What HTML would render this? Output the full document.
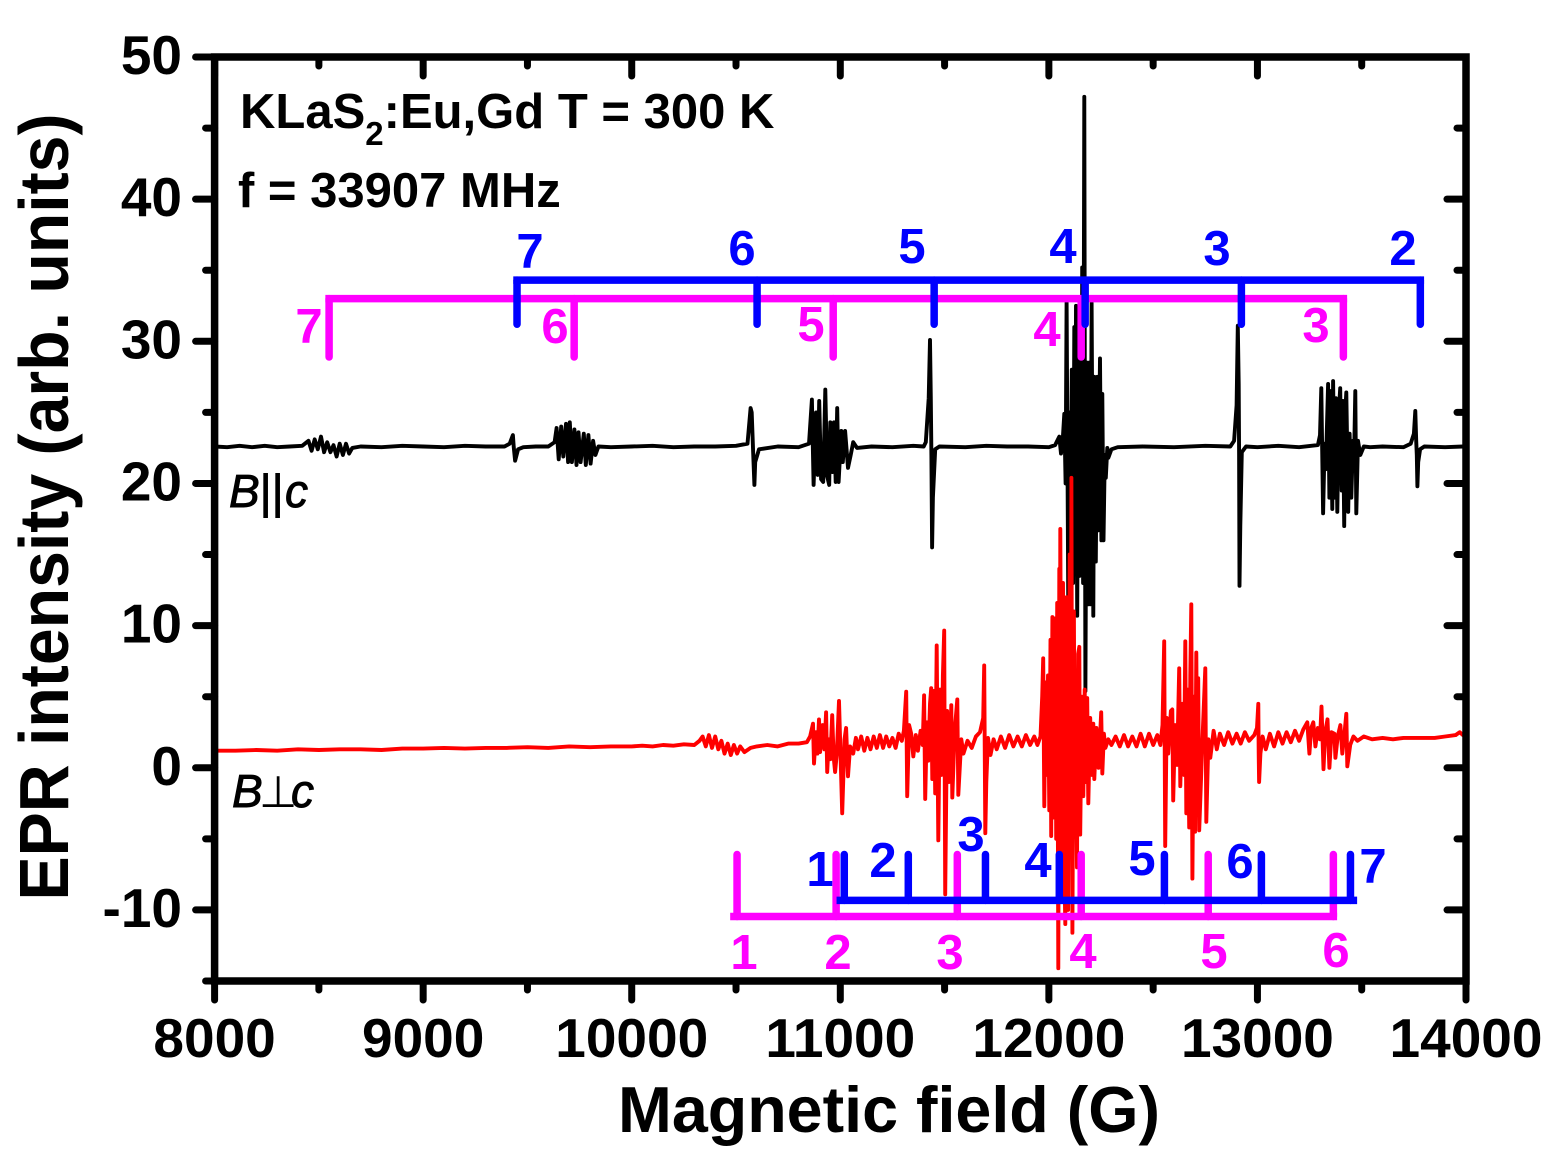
<!DOCTYPE html>
<html lang="en">
<head>
<meta charset="utf-8">
<title>EPR spectra of KLaS2:Eu,Gd</title>
<style>
html,body{margin:0;padding:0;background:#fff;}
svg{display:block;}
text{font-family:"Liberation Sans",Arial,sans-serif;font-weight:bold;}
.it{font-style:italic;font-weight:normal;stroke:#000;stroke-width:0.9px;}
.perp{font-family:"DejaVu Sans",sans-serif;font-style:normal;stroke:none;}
.blue{fill:#0000ff;font-size:49px;text-anchor:middle;}
.mag{fill:#ff00ff;font-size:49px;text-anchor:middle;}
</style>
</head>
<body>
<svg id="chart" xmlns="http://www.w3.org/2000/svg" width="1563" height="1174" viewBox="0 0 1563 1174">
  <rect width="1563" height="1174" fill="#fff"/>
  <g id="series" fill="none" stroke-linejoin="round"></g>
  <g id="frame"></g>
  <g id="brackets" fill="none"></g>
  <g id="tick-labels"></g>

  <text x="889" y="1132" font-size="65" text-anchor="middle" textLength="542" lengthAdjust="spacingAndGlyphs">Magnetic field (G)</text>
  <text transform="translate(68,507) rotate(-90)" font-size="70" text-anchor="middle" textLength="787" lengthAdjust="spacingAndGlyphs">EPR intensity (arb. units)</text>

  <text x="240" y="128" font-size="49">KLaS<tspan font-size="33" dy="17">2</tspan><tspan dy="-17">:Eu,Gd T = 300 K</tspan></text>
  <text x="238" y="207" font-size="49">f = 33907 MHz</text>
  <text class="it" x="229" y="507" font-size="46">B<tspan x="259">||</tspan><tspan x="285">c</tspan></text>
  <text class="it" x="232" y="807" font-size="46">B<tspan class="perp" x="259" font-size="44">⊥</tspan><tspan x="291">c</tspan></text>

  <g>
    <text class="blue" x="530" y="268">7</text>
    <text class="blue" x="742" y="265">6</text>
    <text class="blue" x="912" y="263">5</text>
    <text class="blue" x="1063" y="263">4</text>
    <text class="blue" x="1217" y="265">3</text>
    <text class="blue" x="1403" y="265">2</text>
  </g>
  <g>
    <text class="mag" x="309" y="343">7</text>
    <text class="mag" x="555" y="343">6</text>
    <text class="mag" x="811" y="341">5</text>
    <text class="mag" x="1047" y="346">4</text>
    <text class="mag" x="1316" y="342">3</text>
  </g>
  <g>
    <text class="blue" x="820" y="886">1</text>
    <text class="blue" x="883" y="877">2</text>
    <text class="blue" x="971" y="851">3</text>
    <text class="blue" x="1038" y="877">4</text>
    <text class="blue" x="1142" y="875">5</text>
    <text class="blue" x="1240" y="878">6</text>
    <text class="blue" x="1373" y="883">7</text>
  </g>
  <g>
    <text class="mag" x="744" y="969">1</text>
    <text class="mag" x="838" y="969">2</text>
    <text class="mag" x="950" y="969">3</text>
    <text class="mag" x="1083" y="968">4</text>
    <text class="mag" x="1214" y="968">5</text>
    <text class="mag" x="1336" y="967">6</text>
  </g>
</svg>
<script>
const xTickLabels = [8000, 9000, 10000, 11000, 12000, 13000, 14000];
const xMinorTicks = [8500, 9500, 10500, 11500, 12500, 13500];
const yTickLabels = [50, 40, 30, 20, 10, 0, -10];
const yMinorTicks = [45, 35, 25, 15, 5, -5, -15];

const blackField = [
8000,8060,8120,8180,8240,8300,8360,8420,8450,8465,
8480,8495,8510,8525,8540,8555,8570,8585,8600,8615,
8630,8645,8660,8700,8800,8900,9000,9100,9200,9300,
9390,9415,9430,9434,9441,9455,9480,9540,9600,9630,
9640,9650,9662,9672,9685,9695,9703,9713,9725,9735,
9745,9755,9770,9780,9792,9803,9815,9826,9840,9900,
10000,10100,10200,10300,10400,10500,10555,10570,10575,10582,
10588,10592,10610,10700,10800,10850,10864,10872,10884,10892,
10899,10908,10918,10928,10937,10947,10952,10962,10970,10978,
10985,10992,11005,11012,11023,11037,11050,11062,11080,11150,
11250,11350,11400,11410,11424,11430,11434,11437,11440,11444,
11455,11475,11600,11700,11800,11900,12000,12030,12050,12058,
12066,12074,12080,12085,12093,12098,12103,12110,12116,12122,
12127,12130,12136,12142,12147,12152,12156,12160,12164,12170,
12175,12182,12189,12194,12199,12205,12213,12218,12225,12232,
12236,12245,12252,12256,12262,12268,12273,12280,12285,12300,
12330,12450,12600,12750,12870,12888,12900,12906,12910,12912,
12914,12918,12925,12945,13000,13100,13200,13290,13300,13306,
13315,13322,13328,13339,13345,13350,13359,13363,13370,13376,
13383,13390,13397,13404,13410,13416,13421,13426,13435,13442,
13450,13458,13464,13469,13474,13482,13493,13510,13540,13600,
13700,13735,13750,13757,13761,13764,13767,13771,13780,13800,
13900,13985];
const blackIntensity = [
22.6,22.55,22.65,22.55,22.65,22.55,22.6,22.65,23.0,22.3,
23.1,22.4,23.3,22.2,22.9,22.2,22.7,21.9,22.8,22.0,
22.8,22.1,22.5,22.6,22.55,22.65,22.6,22.55,22.65,22.6,
22.6,22.8,23.4,22.6,21.6,22.4,22.55,22.6,22.6,22.9,
23.9,21.7,24.0,21.9,24.2,21.5,24.3,21.5,23.8,21.3,
23.6,21.5,23.5,21.3,23.4,21.4,23.0,22.0,22.6,22.55,
22.6,22.65,22.55,22.6,22.6,22.65,22.8,25.3,25.0,22.3,
19.9,21.5,22.4,22.6,22.55,22.8,25.9,19.9,25.0,20.6,
25.8,20.3,20.1,26.6,20.5,19.9,24.3,20.8,24.3,20.1,
25.3,20.1,23.7,21.5,23.7,21.1,22.0,22.9,22.5,22.6,
22.55,22.65,22.6,22.9,26.0,30.1,26.0,22.0,15.5,19.0,
22.4,22.6,22.55,22.65,22.6,22.6,22.55,22.7,23.3,22.1,
22.9,24.9,20.0,32.9,11.2,25.0,14.0,28.0,13.0,31.0,
14.0,32.5,10.7,30.0,13.5,31.0,14.0,35.2,13.0,47.2,
5.4,28.5,11.5,28.5,11.5,32.7,10.7,27.5,14.5,27.5,
16.7,28.8,16.0,26.3,16.0,22.0,20.4,22.5,21.8,22.4,
22.55,22.6,22.55,22.65,22.6,23.0,25.5,31.1,27.0,22.0,
12.8,17.0,22.2,22.6,22.55,22.65,22.55,22.7,23.4,26.7,
17.9,22.8,21.0,27.0,19.0,26.5,18.2,27.2,19.0,26.0,
18.0,25.0,26.7,19.5,25.8,17.0,25.0,26.4,18.0,23.5,
19.0,23.0,22.3,26.5,17.9,23.0,22.0,22.6,22.55,22.6,
22.55,22.8,23.5,25.1,23.0,22.0,19.8,21.5,22.4,22.6,
22.55,22.6];

const redField = [
8000,8100,8200,8300,8400,8500,8600,8700,8800,8900,
9000,9100,9200,9300,9400,9500,9600,9700,9800,9900,
10000,10050,10100,10150,10200,10250,10300,10325,10340,10355,
10370,10385,10400,10415,10430,10445,10460,10475,10490,10505,
10520,10540,10570,10600,10650,10700,10750,10800,10840,10855,
10869,10874,10883,10890,10898,10903,10915,10924,10932,10937,
10945,10952,10961,10968,10975,10983,10994,11009,11020,11028,
11037,11047,11062,11075,11085,11100,11115,11130,11145,11160,
11175,11190,11205,11220,11235,11250,11265,11280,11295,11305,
11316,11321,11330,11340,11350,11362,11372,11385,11395,11402,
11407,11415,11422,11430,11436,11441,11449,11455,11462,11470,
11478,11486,11492,11498,11503,11512,11520,11532,11537,11548,
11561,11566,11580,11590,11610,11630,11650,11670,11685,11690,
11695,11700,11708,11720,11735,11750,11770,11790,11810,11830,
11850,11870,11890,11910,11930,11945,11960,11968,11973,11978,
11984,11990,11996,12002,12008,12011,12017,12023,12030,12035,
12040,12045,12050,12052,12055,12062,12068,12074,12079,12085,
12092,12100,12105,12108,12113,12120,12124,12127,12135,12140,
12146,12150,12158,12165,12172,12178,12184,12189,12198,12206,
12213,12218,12228,12238,12251,12256,12264,12271,12285,12300,
12320,12340,12360,12380,12400,12420,12440,12460,12480,12500,
12520,12535,12545,12553,12558,12565,12572,12585,12592,12596,
12605,12615,12625,12630,12640,12648,12654,12659,12665,12673,
12678,12683,12688,12695,12701,12707,12712,12716,12721,12735,
12750,12755,12765,12774,12790,12805,12820,12840,12860,12880,
12900,12920,12940,12960,12985,12998,13004,13006,13008,13014,
13025,13040,13060,13080,13100,13120,13140,13160,13180,13200,
13220,13239,13249,13258,13268,13278,13290,13300,13307,13317,
13325,13336,13345,13355,13369,13374,13385,13398,13407,13418,
13426,13431,13445,13460,13480,13510,13550,13600,13650,13700,
13750,13800,13850,13900,13950,13970,13985,14000];
const redIntensity = [
1.2,1.2,1.25,1.2,1.3,1.25,1.3,1.3,1.25,1.35,
1.35,1.4,1.35,1.4,1.4,1.45,1.4,1.5,1.45,1.5,
1.5,1.55,1.5,1.6,1.55,1.65,1.6,1.9,2.2,1.5,
2.3,1.4,2.2,1.3,1.9,1.0,1.7,0.9,1.6,1.0,
1.5,1.1,1.4,1.5,1.6,1.5,1.7,1.7,1.8,2.2,
3.1,0.3,2.5,1.0,3.4,1.1,3.0,1.3,3.9,-0.3,
2.0,0.6,3.7,0.8,-0.3,1.0,4.7,-3.2,2.0,2.8,
-0.6,1.5,1.0,2.1,1.3,2.2,1.2,2.1,1.3,2.2,
1.4,2.3,1.4,2.2,1.5,2.1,1.4,2.4,1.9,2.6,
5.35,-2.0,3.0,2.4,0.8,2.3,1.2,2.6,1.6,5.1,
-2.2,3.2,0.5,4.5,5.6,-0.8,5.4,-1.8,8.6,-5.1,
5.5,-0.5,6.5,9.65,-8.9,4.0,-1.0,4.4,-2.1,2.5,
4.8,-1.9,2.0,1.0,1.9,1.4,2.2,2.5,3.5,7.2,
-4.6,-1.0,2.1,0.9,2.0,1.3,2.2,1.4,2.3,1.5,
2.2,1.5,2.3,1.6,2.2,1.6,2.2,5.0,7.7,-2.7,
6.0,-0.5,6.5,-3.0,9.0,-4.8,10.6,-3.5,10.5,-5.0,
11.6,-14.1,14.0,-8.0,16.8,-9.0,13.0,-7.0,-11.0,12.0,
-10.0,15.0,-6.0,20.4,-11.6,11.0,-4.0,6.1,-7.0,8.0,
8.5,-4.7,5.0,-2.0,5.5,-1.0,4.9,-2.5,3.5,-0.5,
3.1,-0.8,2.8,0.0,3.9,-0.4,2.4,1.4,2.0,1.6,
2.2,1.5,2.3,1.5,2.2,1.5,2.4,1.5,2.4,1.6,
2.3,1.6,3.0,8.9,-5.5,3.5,1.0,4.0,4.1,-2.3,
3.0,0.2,7.0,-1.3,4.5,-0.5,8.9,-3.2,5.5,-4.2,
6.5,11.5,-7.8,5.0,-4.5,8.1,-3.0,6.3,-4.4,1.5,
7.0,-3.8,2.0,0.7,2.6,1.3,2.4,1.6,2.5,1.7,
2.4,1.7,2.5,1.9,2.3,2.8,4.5,1.0,-1.0,1.0,
2.2,1.3,2.4,1.5,2.5,1.7,2.5,1.8,2.6,1.9,
2.7,3.2,1.0,2.8,3.2,1.5,2.8,2.0,4.3,-0.1,
2.5,3.4,0.0,2.5,2.4,0.7,2.2,3.0,1.0,2.5,
3.8,0.1,1.6,2.2,1.9,2.2,2.0,2.1,2.0,2.1,
2.1,2.1,2.1,2.2,2.3,2.5,2.3,2.4];

const blueTopFields = [9450, 10601, 11450, 12174, 12923, 13781];
const magentaTopFields = [8549, 9724, 10966, 12155, 13412];
const blueBottomFields = [11019, 11326, 11696, 12050, 12554, 13019, 13446];
const magentaBottomFields = [10505, 10980, 11561, 12155, 12764, 13364];

const xDomain = [8000, 14000];
const yDomain = [-15, 50];
const plotBox = {left: 214.6, right: 1466, top: 57, bottom: 981};

function sx(v) {
  return plotBox.left + (v - xDomain[0]) / (xDomain[1] - xDomain[0]) * (plotBox.right - plotBox.left);
}
function sy(v) {
  return plotBox.bottom - (v - yDomain[0]) / (yDomain[1] - yDomain[0]) * (plotBox.bottom - plotBox.top);
}

const NS = 'http://www.w3.org/2000/svg';
function make(tag, attrs, parent) {
  const el = document.createElementNS(NS, tag);
  for (const k in attrs) el.setAttribute(k, attrs[k]);
  parent.appendChild(el);
  return el;
}

const seriesG = document.getElementById('series');
function drawSeries(fields, values, color, name) {
  const pts = fields.map((f, i) => sx(f).toFixed(1) + ',' + sy(values[i]).toFixed(1)).join(' ');
  const line = make('polyline', {points: pts, stroke: color, 'stroke-width': 3.9}, seriesG);
  
  
}
drawSeries(blackField, blackIntensity, '#000000', 'spectrum-b-parallel-c');
drawSeries(redField, redIntensity, '#ff0000', 'spectrum-b-perpendicular-c');

const frameG = document.getElementById('frame');
const box = make('rect', {
  x: plotBox.left, y: plotBox.top,
  width: plotBox.right - plotBox.left, height: plotBox.bottom - plotBox.top,
  fill: 'none', stroke: '#000', 'stroke-width': 7.5
}, frameG);



function tickLine(x1, y1, x2, y2, name) {
  const t = make('line', {x1: x1, y1: y1, x2: x2, y2: y2, stroke: '#000', 'stroke-width': 7, 'stroke-linecap': 'round'}, frameG);
  
  
}
const majorLen = 19, minorLen = 9;
function xTick(v, len, name) {
  const x = sx(v);
  tickLine(x, plotBox.bottom, x, plotBox.bottom + len, name);
  tickLine(x, plotBox.top, x, plotBox.top + len, name + '-top');
}
function yTick(v, len, name) {
  const y = sy(v);
  tickLine(plotBox.left, y, plotBox.left - len, y, name);
  tickLine(plotBox.right, y, plotBox.right - len, y, name + '-right');
}
xTickLabels.forEach(v => xTick(v, majorLen, 'x-major-tick'));
xMinorTicks.forEach(v => xTick(v, minorLen, 'x-minor-tick'));
yTickLabels.forEach(v => yTick(v, majorLen, 'y-major-tick'));
yMinorTicks.forEach(v => yTick(v, minorLen, 'y-minor-tick'));

const labelsG = document.getElementById('tick-labels');
xTickLabels.forEach(v => {
  const t = make('text', {x: sx(v), y: 1057, 'font-size': 55, 'text-anchor': 'middle'}, labelsG);
  t.textContent = v;
  
  
});
yTickLabels.forEach(v => {
  const t = make('text', {x: 182, y: sy(v) + 17, 'font-size': 55, 'text-anchor': 'end'}, labelsG);
  t.textContent = v;
  
  
});

const bracketsG = document.getElementById('brackets');
function bracket(fields, level, tip, startField, endField, color, name) {
  const yl = sy(level), yt = sy(tip);
  fields.forEach(f => {
    const d = make('line', {x1: sx(f), y1: yl, x2: sx(f), y2: yt, stroke: color, 'stroke-width': 7.5, 'stroke-linecap': 'round'}, bracketsG);
    
    
  });
  const h = make('line', {x1: sx(startField), y1: yl, x2: sx(endField), y2: yl, stroke: color, 'stroke-width': 7.5, 'stroke-linecap': 'square'}, bracketsG);
  
  
}
bracket(magentaTopFields, 33.0, 28.9, magentaTopFields[0], magentaTopFields[magentaTopFields.length - 1], '#ff00ff', 'magenta-top-bracket');
bracket(blueTopFields, 34.3, 31.2, blueTopFields[0], blueTopFields[blueTopFields.length - 1], '#0000ff', 'blue-top-bracket');
bracket(magentaBottomFields, -10.46, -6.1, 10490, 13364, '#ff00ff', 'magenta-bottom-bracket');
bracket(blueBottomFields, -9.33, -6.1, 11000, 13460, '#0000ff', 'blue-bottom-bracket');
</script>
</body>
</html>
